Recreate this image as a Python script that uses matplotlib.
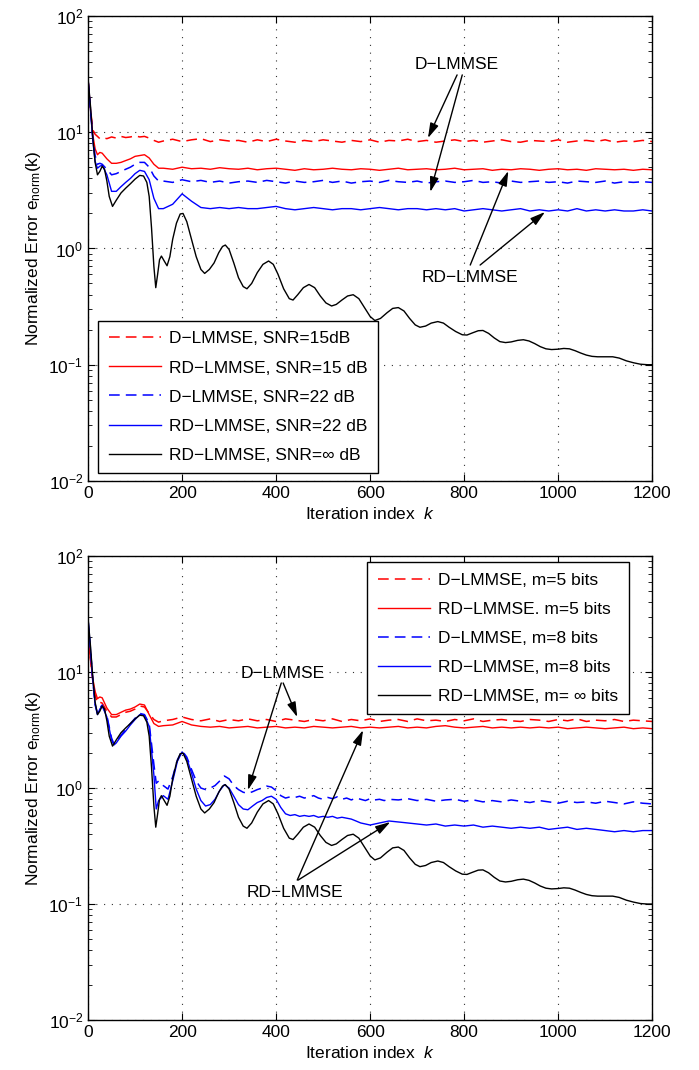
import matplotlib
matplotlib.use('Agg')
import matplotlib.pyplot as plt

plt.rcParams['font.family'] = ['Liberation Sans', 'DejaVu Sans']
plt.rcParams['mathtext.fontset'] = 'custom'
plt.rcParams['mathtext.rm'] = 'Liberation Sans'
plt.rcParams['mathtext.it'] = 'Liberation Sans:italic'
plt.rcParams['font.size'] = 12

# ---------------- data ----------------
# grid used by the top-panel curves and the bottom red curves
k_early = [0, 5, 10, 15, 20, 25, 30, 40, 50, 60, 70, 80, 90, 100, 110, 120, 130, 140, 150]
k_flat = list(range(160, 1201, 20))
k_top = k_early + k_flat

# top panel: SNR
snr15_d = [28, 16, 10.5, 9.6, 9.2, 8.8, 9.0, 8.8, 9.1, 8.9, 9.2, 9.0, 9.1, 9.3, 9.1, 9.2, 8.9, 8.5, 8.2,
           8.4, 8.7, 8.3, 8.6, 8.8, 8.3, 8.6, 8.4, 8.5, 8.2,
           8.6, 8.3, 8.7, 8.4, 8.2, 8.5, 8.3, 8.6, 8.4, 8.2,
           8.5, 8.3, 8.6, 8.2, 8.5, 8.4, 8.7, 8.3, 8.5, 8.2,
           8.4, 8.6, 8.3, 8.5, 8.2, 8.4, 8.6, 8.3, 8.2, 8.5,
           8.4, 8.3, 8.6, 8.2, 8.4, 8.5, 8.3, 8.6, 8.2, 8.4,
           8.3, 8.5, 8.3]
snr15_rd = [28, 16, 9.5, 7.2, 6.4, 6.7, 6.6, 5.9, 5.4, 5.4, 5.5, 5.7, 5.9, 6.2, 6.3, 6.4, 6.0, 5.3, 4.9,
            4.9, 4.8, 5.0, 4.85, 4.9, 4.8, 4.95, 4.85, 4.8, 4.9,
            4.75, 4.85, 4.9, 4.8, 4.7, 4.85, 4.75, 4.8, 4.9, 4.8,
            4.75, 4.85, 4.8, 4.7, 4.8, 4.9, 4.75, 4.8, 4.85, 4.75,
            4.8, 4.9, 4.75, 4.8, 4.85, 4.7, 4.8, 4.75, 4.85, 4.8,
            4.7, 4.8, 4.85, 4.75, 4.8, 4.7, 4.85, 4.8, 4.75, 4.8,
            4.7, 4.8, 4.75]
snr22_d = [28, 16, 9.0, 6.3, 5.3, 5.4, 5.3, 4.8, 4.3, 4.4, 4.6, 4.8, 5.0, 5.3, 5.5, 5.5, 5.0, 4.2, 3.8,
           3.8, 3.7, 3.9, 3.75, 3.85, 3.7, 3.8, 3.65, 3.75, 3.8,
           3.7, 3.85, 3.75, 3.65, 3.8, 3.7, 3.75, 3.85, 3.7, 3.8,
           3.65, 3.75, 3.8, 3.7, 3.85, 3.75, 3.7, 3.8, 3.65, 3.75,
           3.8, 3.7, 3.75, 3.85, 3.7, 3.75, 3.65, 3.8, 3.7, 3.75,
           3.8, 3.7, 3.75, 3.65, 3.8, 3.75, 3.7, 3.8, 3.65, 3.75,
           3.7, 3.75, 3.7]
snr22_rd = [28, 16, 8.5, 5.6, 4.9, 5.1, 5.2, 4.3, 3.1, 3.1, 3.4, 3.7, 4.0, 4.4, 4.7, 4.6, 3.9, 2.7, 2.2,
            2.2, 2.4, 2.95, 2.55, 2.25, 2.2, 2.25, 2.2, 2.25, 2.2,
            2.2, 2.25, 2.3, 2.2, 2.15, 2.2, 2.25, 2.2, 2.15, 2.2,
            2.2, 2.15, 2.2, 2.25, 2.2, 2.15, 2.2, 2.2, 2.15, 2.2,
            2.15, 2.2, 2.1, 2.15, 2.2, 2.15, 2.1, 2.15, 2.2, 2.1,
            2.15, 2.1, 2.15, 2.1, 2.2, 2.1, 2.15, 2.1, 2.15, 2.1,
            2.1, 2.15, 2.1]

# ideal curve (same in both panels)
k_ideal = [0, 5, 10, 15, 20, 25, 30, 35, 40, 45, 52, 60, 70, 80, 90, 100, 110, 118, 125, 130,
           135, 140, 144, 148, 152, 156, 162, 168, 174, 180, 188, 196, 202, 210, 220, 230, 240, 248,
           258, 268, 278, 286, 292, 300, 310, 320, 330, 338, 348, 360, 372, 384, 394, 404, 416, 428,
           436, 446, 458, 470, 482, 494, 506, 518, 528, 540, 552, 564, 576, 588, 600, 610, 622, 636,
           648, 660, 672, 684, 696, 706, 718, 730, 744, 756, 768, 782, 796, 806, 818, 830, 840, 852,
           864, 876, 888, 900, 914, 926, 938, 950, 962, 974, 986, 1000, 1012, 1024, 1036, 1048, 1060,
           1072, 1084, 1100, 1116, 1130, 1145, 1160, 1175, 1190, 1200]
e_ideal = [29, 17, 9, 5.5, 4.3, 4.6, 5.1, 4.8, 3.8, 2.8, 2.3, 2.6, 3.0, 3.3, 3.6, 3.95, 4.25, 4.2, 3.7, 2.8,
           1.5, 0.7, 0.46, 0.6, 0.8, 0.86, 0.78, 0.71, 0.85, 1.2, 1.65, 1.98, 2.0, 1.7, 1.2, 0.85, 0.66, 0.61,
           0.66, 0.75, 0.92, 1.04, 1.07, 0.98, 0.75, 0.56, 0.47, 0.45, 0.5, 0.62, 0.73, 0.78, 0.73, 0.6, 0.45, 0.37,
           0.36, 0.4, 0.46, 0.49, 0.46, 0.39, 0.34, 0.32, 0.33, 0.36, 0.39, 0.40, 0.37, 0.31, 0.26, 0.24, 0.25, 0.28,
           0.305, 0.31, 0.29, 0.25, 0.22, 0.21, 0.215, 0.228, 0.235, 0.228, 0.21, 0.193, 0.181, 0.18, 0.188, 0.196, 0.197, 0.186,
           0.17, 0.158, 0.155, 0.157, 0.162, 0.164, 0.16, 0.152, 0.143, 0.137, 0.135, 0.136, 0.138, 0.137, 0.132, 0.126, 0.121,
           0.118, 0.117, 0.117, 0.117, 0.114, 0.108, 0.104, 0.101, 0.1, 0.1]

# bottom panel: quantization bits
bits5_d = [19, 13, 8.5, 6.3, 5.4, 5.5, 5.4, 4.6, 4.1, 4.1, 4.3, 4.5, 4.6, 4.8, 5.1, 5.0, 4.4, 3.9, 3.7,
           3.8, 3.9, 4.1, 3.9, 3.8, 3.95, 3.75, 3.9, 3.8, 3.95,
           3.8, 3.9, 3.75, 3.95, 3.85, 3.75, 3.9, 3.8, 3.95, 3.75,
           3.9, 3.8, 3.95, 3.75, 3.85, 3.9, 3.75, 3.95, 3.8, 3.85,
           3.75, 3.9, 3.8, 3.95, 3.75, 3.85, 3.9, 3.8, 3.75, 3.9,
           3.85, 3.75, 3.9, 3.8, 3.95, 3.75, 3.85, 3.8, 3.9, 3.75,
           3.85, 3.8, 3.75]
bits5_rd = [19, 13, 8.8, 6.8, 5.9, 6.1, 6.0, 4.9, 4.3, 4.3, 4.5, 4.7, 4.8, 5.0, 5.3, 5.2, 4.3, 3.6, 3.4,
            3.45, 3.5, 3.75, 3.5, 3.4, 3.35, 3.4, 3.3, 3.35, 3.4,
            3.3, 3.35, 3.4, 3.3, 3.35, 3.3, 3.4, 3.35, 3.3, 3.35,
            3.4, 3.3, 3.35, 3.3, 3.35, 3.4, 3.3, 3.35, 3.3, 3.4,
            3.45, 3.35, 3.3, 3.35, 3.4, 3.3, 3.35, 3.3, 3.35, 3.3,
            3.35, 3.3, 3.35, 3.25, 3.3, 3.35, 3.3, 3.25, 3.3, 3.35,
            3.25, 3.3, 3.25]

k_fine = ([0, 5, 10, 15, 20, 25, 30, 40, 50, 55, 60, 70, 80, 90, 100, 110, 120, 130, 140, 145, 150]
          + list(range(160, 641, 10)) + list(range(660, 1201, 20)))
bits8_d = [28, 16, 8.5, 5.3, 4.4, 4.9, 5.2, 4.2, 2.7, 2.4, 2.5, 2.85, 3.2, 3.6, 4.0, 4.4, 4.3, 3.6, 1.6, 1.1, 1.15,
           1.05, 0.98, 1.25, 1.75, 2.1, 1.85, 1.45, 1.15, 1.0, 0.97,
           1.0, 1.05, 1.15, 1.27, 1.2, 1.05, 0.97, 0.92, 0.9, 0.93,
           0.97, 1.0, 1.04, 1.02, 0.95, 0.86, 0.82, 0.84, 0.83, 0.85,
           0.82, 0.84, 0.86, 0.82, 0.8, 0.83, 0.81, 0.84, 0.8, 0.82,
           0.79, 0.82, 0.8, 0.78, 0.81, 0.79, 0.8, 0.78, 0.8,
           0.79, 0.81, 0.78, 0.8, 0.77, 0.79, 0.8, 0.77, 0.79, 0.76,
           0.78, 0.76, 0.79, 0.77, 0.75, 0.78, 0.76, 0.74, 0.77, 0.75,
           0.76, 0.74, 0.77, 0.75, 0.73, 0.76, 0.74, 0.73]
bits8_rd = [28, 16, 8.5, 5.2, 4.3, 4.8, 5.1, 4.1, 2.6, 2.35, 2.45, 2.8, 3.1, 3.5, 3.9, 4.3, 4.25, 3.4, 1.3, 0.66, 0.78,
            0.86, 0.8, 1.15, 1.7, 2.05, 1.8, 1.35, 0.98, 0.78, 0.7,
            0.72, 0.8, 0.95, 1.07, 1.0, 0.85, 0.72, 0.66, 0.65, 0.7,
            0.75, 0.78, 0.83, 0.85, 0.8, 0.68, 0.6, 0.58, 0.59, 0.57,
            0.58, 0.57, 0.58, 0.56, 0.57, 0.56, 0.57, 0.55, 0.56, 0.55,
            0.54, 0.52, 0.5, 0.49, 0.48, 0.49, 0.5, 0.51, 0.52,
            0.51, 0.5, 0.49, 0.48, 0.49, 0.47, 0.48, 0.47, 0.48, 0.46,
            0.47, 0.46, 0.45, 0.46, 0.45, 0.46, 0.44, 0.45, 0.46, 0.44,
            0.45, 0.44, 0.43, 0.42, 0.43, 0.42, 0.43, 0.43]

top_labels = ['D\u2212LMMSE, SNR=15dB', 'RD\u2212LMMSE, SNR=15 dB', 'D\u2212LMMSE, SNR=22 dB',
              'RD\u2212LMMSE, SNR=22 dB', 'RD\u2212LMMSE, SNR=\u221e dB']
bot_labels = ['D\u2212LMMSE, m=5 bits', 'RD\u2212LMMSE. m=5 bits', 'D\u2212LMMSE, m=8 bits',
              'RD\u2212LMMSE, m=8 bits', 'RD\u2212LMMSE, m= \u221e bits']

DASH = (0, (7, 4))
FS = 12.5


def style_axes(ax):
    ax.set_yscale('log')
    ax.set_xlim(0, 1200)
    ax.set_ylim(1e-2, 1e2)
    ax.set_xticks(range(0, 1201, 200))
    ax.grid(True, which='major', color='#333333', linestyle=(0, (1, 6)), linewidth=0.8)
    ax.tick_params(which='both', direction='in', top=True, right=True, labelsize=12.5)
    ax.tick_params(which='major', length=5)
    ax.tick_params(which='minor', length=3)
    ax.set_xlabel('Iteration index  $\\mathit{k}$', fontsize=FS)
    ax.set_ylabel('Normalized Error e$_{\\mathrm{norm}}$(k)', fontsize=FS)
    for s in ax.spines.values():
        s.set_linewidth(1.0)


def arrow(ax, tail, head):
    ax.annotate('', xy=head, xytext=tail,
                arrowprops=dict(arrowstyle='-|>,head_length=0.75,head_width=0.22',
                                color='k', lw=1.0, mutation_scale=12,
                                shrinkA=0, shrinkB=0))


def legend(ax, labels, **kw):
    leg = ax.legend(labels, borderaxespad=0, fontsize=FS, fancybox=False,
                    edgecolor='k', framealpha=1, handlelength=3.0,
                    handletextpad=0.5, labelspacing=0.8, borderpad=0.6, **kw)
    leg.get_frame().set_linewidth(1.0)


fig = plt.figure(figsize=(6.99, 10.70), dpi=100)

# ---------------- top panel ----------------
ax1 = fig.add_axes([0.126, 0.5505, 0.807, 0.4346])
ax1.plot(k_top, snr15_d, color='r', lw=1.1, linestyle=DASH)
ax1.plot(k_top, snr15_rd, color='r', lw=1.0)
ax1.plot(k_top, snr22_d, color='b', lw=1.1, linestyle=DASH)
ax1.plot(k_top, snr22_rd, color='b', lw=1.0)
ax1.plot(k_ideal, e_ideal, color='k', lw=1.0)
style_axes(ax1)
legend(ax1, top_labels, loc='lower left', bbox_to_anchor=(0.018, 0.017))

ax1.text(785, 37.9, 'D\u2212LMMSE', ha='center', va='center', fontsize=FS)
arrow(ax1, (785, 31.1), (723, 8.9))
arrow(ax1, (796, 31.1), (728, 3.06))
ax1.text(813, 0.557, 'RD\u2212LMMSE', ha='center', va='center', fontsize=FS)
arrow(ax1, (813, 0.72), (894, 4.64))
arrow(ax1, (834, 0.72), (972, 2.06))

# ---------------- bottom panel ----------------
ax2 = fig.add_axes([0.126, 0.0467, 0.807, 0.4336])
ax2.plot(k_top, bits5_d, color='r', lw=1.1, linestyle=DASH)
ax2.plot(k_top, bits5_rd, color='r', lw=1.0)
ax2.plot(k_fine, bits8_d, color='b', lw=1.1, linestyle=DASH)
ax2.plot(k_fine, bits8_rd, color='b', lw=1.0)
ax2.plot(k_ideal, e_ideal, color='k', lw=1.0)
style_axes(ax2)
legend(ax2, bot_labels, loc='upper right', bbox_to_anchor=(0.959, 0.987))

ax2.text(415, 9.8, 'D\u2212LMMSE', ha='center', va='center', fontsize=FS)
arrow(ax2, (415, 8.05), (445, 4.09))
arrow(ax2, (411, 8.05), (340, 0.96))
ax2.text(440, 0.127, 'RD\u2212LMMSE', ha='center', va='center', fontsize=FS)
arrow(ax2, (445, 0.161), (585, 3.16))
arrow(ax2, (447, 0.161), (643, 0.51))

plt.savefig('out.png', dpi=100)
